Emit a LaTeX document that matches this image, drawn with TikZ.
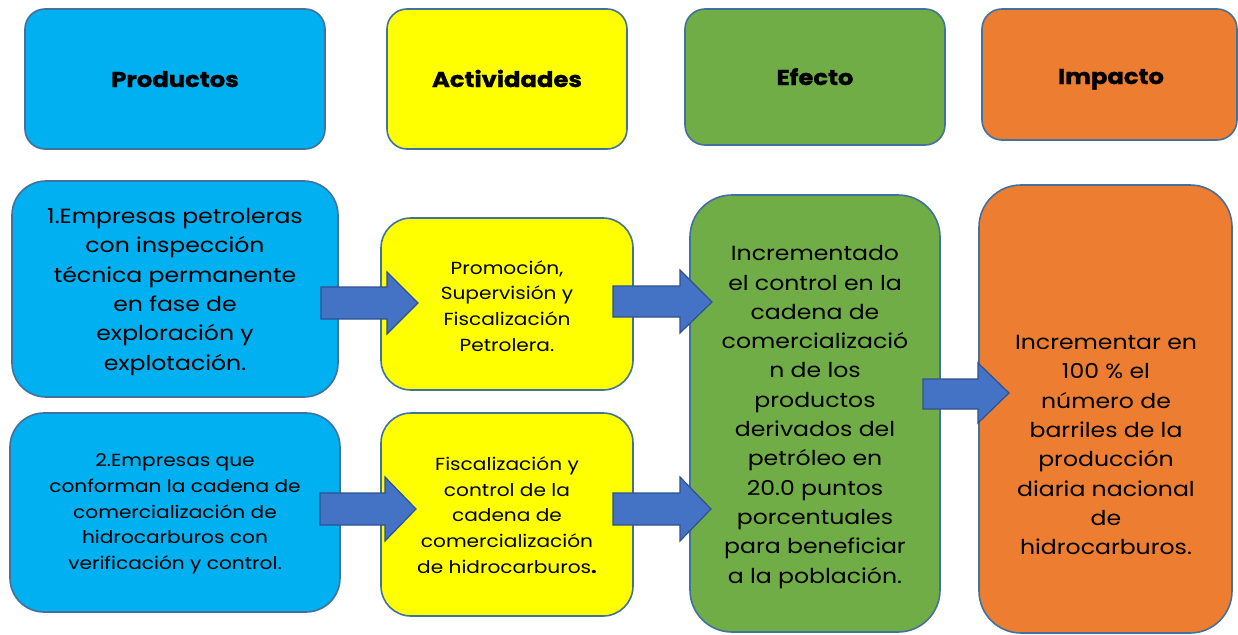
\documentclass[tikz,border=0pt]{standalone}
\usepackage{fontspec}
\setmainfont[FakeStretch=1.15]{Poppins}
\newfontfamily\hdrfont[FakeStretch=1.13, BoldFeatures={FakeBold=1.2}]{Poppins}
\definecolor{bxblue}{HTML}{00B0F0}
\definecolor{bxyellow}{HTML}{FFFF00}
\definecolor{bxgreen}{HTML}{70AD47}
\definecolor{bxorange}{HTML}{ED7D31}
\definecolor{bxborder}{HTML}{41719C}
\definecolor{arfill}{HTML}{4472C4}
\definecolor{arborder}{HTML}{2F528F}
\tikzset{
  box/.style={draw=bxborder, line width=1.6pt},
  hdr/.style={font=\hdrfont\fontsize{21.5}{25}\selectfont\bfseries, anchor=base},
  big/.style={font=\fontsize{20.5}{29.3}\selectfont, align=center, anchor=center},
  small/.style={font=\fontsize{17.5}{25.8}\selectfont, align=center, anchor=center},
  arrowshape/.style={fill=arfill, draw=arborder, line width=1.2pt, line join=miter},
}
\begin{document}
\begin{tikzpicture}[x=1pt,y=-1pt]
\useasboundingbox (0,0) rectangle (1238,634);
\begin{scope}
\clip (0,0) rectangle (1238,634);
% headers
\draw[box, fill=bxblue, rounded corners=20] (25,9) rectangle (325,149);
\draw[box, fill=bxyellow, rounded corners=20] (387,9) rectangle (627,149);
\draw[box, fill=bxgreen, rounded corners=20] (685,9) rectangle (945,145);
\draw[box, fill=bxorange, rounded corners=20] (982,9) rectangle (1237,140);
% body boxes
\draw[box, fill=bxblue, rounded corners=34] (12,181) rectangle (338,397);
\draw[box, fill=bxblue, rounded corners=34] (10,413) rectangle (340,612);
\draw[box, fill=bxyellow, rounded corners=30] (381,218) rectangle (633,390);
\draw[box, fill=bxyellow, rounded corners=30] (381,413) rectangle (633,616);
\draw[box, fill=bxgreen, rounded corners=42] (690,195) rectangle (940,632);
\draw[box, fill=bxorange, rounded corners=42] (979,185) rectangle (1232,633);
\end{scope}
% header texts
\node[hdr] (hP) at (175,87) {Productos};
\node[hdr] (hA) at (507,87) {Actividades};
\node[hdr] (hE) at (815,85) {Efecto};
\node[hdr] (hI) at (1111,84) {Impacto};
% body texts
\node[big] (p1) at (175,292) {1.Empresas petroleras\\con inspección\\técnica permanente\\en fase de\\exploración y\\explotación.};
\node[small] (p2) at (175,514) {2.Empresas que\\conforman la cadena de\\comercialización de\\hidrocarburos con\\verificación y control.};
\node[small] (a1) at (507,306) {Promoción,\\Supervisión y\\Fiscalización\\Petrolera.};
\node[small] (a2) at (507,515) {Fiscalización y\\control de la\\cadena de\\comercialización\\de hidrocarburos\textbf{.}};
\node[big] (e) at (815,417) {Incrementado\\el control en la\\cadena de\\comercializació\\n de los\\productos\\derivados del\\petróleo en\\20.0 puntos\\porcentuales\\para beneficiar\\a la población.};
\node[big] (i) at (1106,445) {Incrementar en\\100 \% el\\número de\\barriles de la\\producción\\diaria nacional\\de\\hidrocarburos.};
% block arrows
\draw[arrowshape] (321,287) -- (387,287) -- (387,272) -- (418,303) -- (387,334) -- (387,319) -- (321,319) -- cycle;
\draw[arrowshape] (613,286) -- (680,286) -- (680,270) -- (712,302) -- (680,333) -- (680,317) -- (613,317) -- cycle;
\draw[arrowshape] (320,493) -- (385,493) -- (385,477) -- (416,509) -- (385,541) -- (385,525) -- (320,525) -- cycle;
\draw[arrowshape] (613,493) -- (680,493) -- (680,477) -- (711,509) -- (680,541) -- (680,525) -- (613,525) -- cycle;
\draw[arrowshape] (923,379) -- (978,379) -- (978,363) -- (1009,393) -- (978,423) -- (978,409) -- (923,409) -- cycle;
\end{tikzpicture}
\end{document}
